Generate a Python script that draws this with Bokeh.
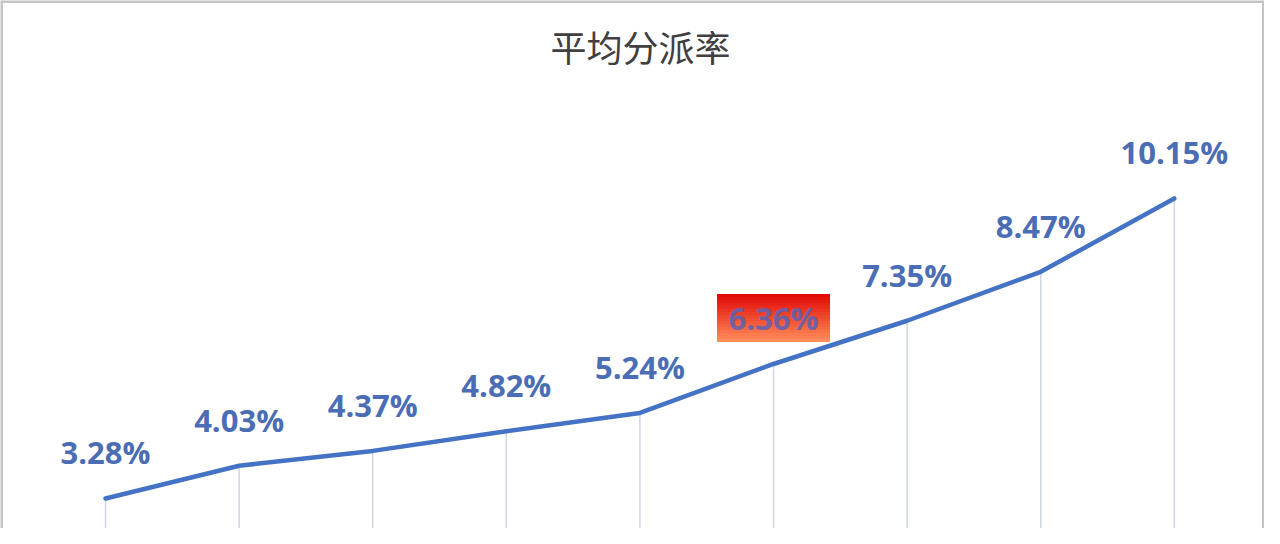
from bokeh.plotting import figure
from bokeh.models import Range1d, Label, Span
from bokeh.core.properties import value
from bokeh.embed import file_html
from bokeh.resources import INLINE

# === Data ===
title_text = "平均分派率"
rates = [3.28, 4.03, 4.37, 4.82, 5.24, 6.36, 7.35, 8.47, 10.15]
rate_labels = ["3.28%", "4.03%", "4.37%", "4.82%", "5.24%", "6.36%", "7.35%", "8.47%", "10.15%"]
highlight_idx = 5
xs = list(range(len(rates)))

BLUE = "#4472C4"
LABEL_BLUE = "#4a6db4"
DROP = "#cdd6e4"
TITLE_C = "#404040"
EDGE = "#c4c4c4"

W, H = 1264, 528
X0, X1 = -0.786, 8.675
Y0, Y1 = 2.593, 14.683

p = figure(
    width=W, height=H,
    x_range=Range1d(X0, X1),
    y_range=Range1d(Y0, Y1),
    output_backend="svg",
    toolbar_location=None,
    min_border=0,
    background_fill_color="white",
    border_fill_color="white",
)
p.axis.visible = False
p.grid.visible = False
p.outline_line_color = None

# picture edges: left, top, right (bottom is open)
for loc, dim in [(X0, "height"), (X1, "height"), (Y1, "width")]:
    p.add_layout(Span(location=loc, dimension=dim, line_color=EDGE, line_width=5))

# ---------- drop lines ----------
p.segment(x0=xs, y0=rates, x1=xs, y1=[0] * len(rates),
          line_color=DROP, line_width=1.5)

# ---------- main line ----------
p.line(xs, rates, line_color=BLUE, line_width=4.5, line_join="round", line_cap="round")

# ---------- highlighted label box (red gradient) ----------
ppu = H / (Y1 - Y0)
box_top_px, box_bot_px = 70, 22
n = 16
hv = rates[highlight_idx]
top_c = (226, 10, 6)
bot_c = (255, 140, 92)
for k in range(n):
    t = k / (n - 1)
    c = tuple(int(top_c[j] + (bot_c[j] - top_c[j]) * t) for j in range(3))
    hi = box_top_px - (box_top_px - box_bot_px) * k / n
    lo = box_top_px - (box_top_px - box_bot_px) * (k + 1) / n
    p.quad(left=highlight_idx - 0.423, right=highlight_idx + 0.423,
           top=hv + hi / ppu, bottom=hv + lo / ppu,
           fill_color="#%02x%02x%02x" % c, line_color=None)

# ---------- value labels ----------
norm_idx = [i for i in xs if i != highlight_idx]
p.text(x=[xs[i] for i in norm_idx], y=[rates[i] for i in norm_idx],
       text=[rate_labels[i] for i in norm_idx],
       text_font=value("Open Sans"), text_font_style="bold",
       text_font_size="31px", text_color=LABEL_BLUE,
       text_align="center", text_baseline="middle", y_offset=-46)
p.text(x=[xs[highlight_idx]], y=[rates[highlight_idx]],
       text=[rate_labels[highlight_idx]],
       text_font=value("Open Sans"), text_font_style="bold",
       text_font_size="31px", text_color="#6262b0", text_alpha=0.9,
       text_align="center", text_baseline="middle", y_offset=-46)

# ---------- title ----------
p.add_layout(Label(
    x=640, y=H - 45, x_units="screen", y_units="screen",
    text=title_text, text_font="Noto Sans CJK SC", text_font_size="36px",
    text_color=TITLE_C, text_align="center", text_baseline="middle",
))

open("out.html", "w").write(file_html(p, INLINE))
